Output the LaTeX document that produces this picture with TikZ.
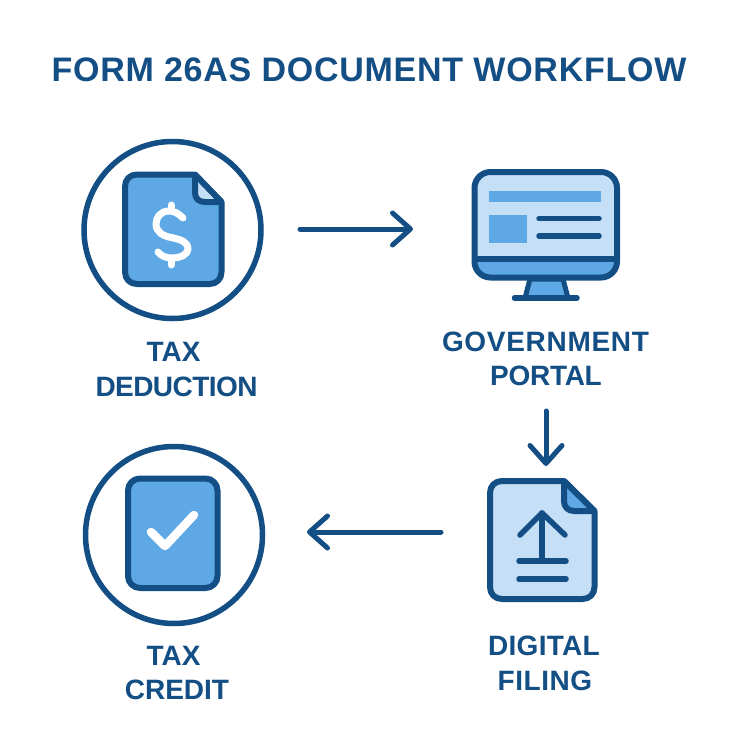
\documentclass[tikz,border=0pt]{standalone}
\usepackage{fontspec}
\setmainfont{Liberation Sans}
\usetikzlibrary{arrows.meta}
\definecolor{navy}{HTML}{134E85}
\definecolor{midblue}{HTML}{5FA8E6}
\definecolor{paleblue}{HTML}{C5DFF7}
\newcommand{\lbl}[2]{\addfontfeature{LetterSpace=#1}#2}
\tikzset{
  ring/.style={circle,draw=navy,line width=5.5pt,fill=white,minimum size=177pt,inner sep=0pt},
  outline/.style={draw=navy,line width=6pt,line join=round},
  inkline/.style={draw=navy,line width=5.5pt,line cap=round,line join=round},
  whiteink/.style={draw=white,line cap=round,line join=round},
  flow/.style={draw=navy,line width=5pt,line cap=round,-{Straight Barb[length=18pt,width=32pt,round,line width=5pt]}},
  label/.style={text=navy,font=\fontsize{28}{28}\bfseries\selectfont,inner sep=0pt,anchor=center},
  titletext/.style={text=navy,font=\fontsize{34}{34}\bfseries\addfontfeature{LetterSpace=2.2}\selectfont,inner sep=0pt}
}
\begin{document}
\begin{tikzpicture}[x=1pt,y=-1pt]
\useasboundingbox (0,0) rectangle (753,753);
\fill[white] (0,0) rectangle (753,753);
\node[titletext] (title) at (369,70) {FORM 26AS DOCUMENT WORKFLOW};

% Tax deduction
\node[ring] (dedring) at (172.5,230) {};
\path[outline,fill=midblue] (195,174.5) -- (137,174.5) .. controls (130,174.5) and (125,179.5) .. (125,186.5) -- (125,272) .. controls (125,279) and (130,284) .. (137,284) -- (209.5,284) .. controls (216.5,284) and (221.5,279) .. (221.5,272) -- (221.5,202) -- cycle;
\path[fill=paleblue] (195,174.5) -- (221.5,202) -- (203,202) -- (195,194) -- cycle;
\path[outline] (195,174.5) -- (195,192) .. controls (195,198) and (198,202) .. (205,202) -- (221.5,202);
\path[outline] (195,174.5) -- (221.5,202);
\draw[whiteink,line width=7pt] (183,218) .. controls (178,213) and (174,211) .. (169,211)
  .. controls (161,211) and (156,217) .. (156,224)
  .. controls (156,232) and (163,236) .. (171,237.5)
  .. controls (181,239.5) and (188,242) .. (188,249)
  .. controls (188,254) and (181,258) .. (172,258)
  .. controls (166,258) and (161,256) .. (158,252);
\draw[whiteink,line width=7pt] (171,205) -- (171,211) (171,258) -- (171,265);
\node[label] (ded1) at (173.5,352) {TAX};
\node[label] (ded2) at (176.5,387) {\lbl{-2}{DEDUCTION}};

% Government portal
\path[fill=paleblue,rounded corners=16pt] (474.5,172) rectangle (617,277.5);
\begin{scope}
\clip[rounded corners=16pt] (474.5,172) rectangle (617,277.5);
\fill[midblue] (474.5,259) rectangle (617,277.5);
\end{scope}
\path[outline,rounded corners=16pt] (474.5,172) rectangle (617,277.5);
\draw[navy,line width=6pt] (474.5,259) -- (617,259);
\fill[midblue] (489,191) rectangle (601,202);
\fill[midblue] (489,215) rectangle (526.5,243);
\draw[inkline] (539,218.5) -- (599,218.5);
\draw[inkline] (539,236) -- (599,236);
\path[outline,line width=5pt,fill=midblue] (530,279) -- (563,279) -- (568,298) -- (525,298) -- cycle;
\draw[inkline] (514.5,298) -- (577,298);
\node[label] (gov1) at (545.5,342) {\lbl{2.5}{GOVERNMENT}};
\node[label] (gov2) at (546,376) {\lbl{-1}{PORTAL}};

% Digital filing
\path[outline,fill=paleblue] (564,481) -- (502,481) .. controls (495,481) and (490,486) .. (490,493) -- (490,587) .. controls (490,594) and (495,599) .. (502,599) -- (582.5,599) .. controls (589.5,599) and (594.5,594) .. (594.5,587) -- (594.5,511) -- cycle;
\path[fill=midblue] (564,481) -- (594.5,511) -- (574,511) -- (564,501) -- cycle;
\path[outline] (564,481) -- (564,501) .. controls (564,507) and (568,511) .. (574,511) -- (594.5,511);
\path[outline] (564,481) -- (594.5,511);
\draw[inkline] (542,560) -- (542,513);
\draw[inkline] (520,535) -- (542,513) -- (565,535);
\draw[inkline] (519,561) -- (566,561);
\draw[inkline] (519,579) -- (566,579);
\node[label] (fil1) at (544,646) {\lbl{1}{DIGITAL}};
\node[label] (fil2) at (545,681) {\lbl{2}{FILING}};

% Tax credit
\node[ring] (credring) at (174,535) {};
\path[outline,fill=midblue,rounded corners=12pt] (128,478.5) rectangle (217.5,588);
\draw[whiteink,line width=8.5pt] (151,532) -- (165,546) -- (194,515);
\node[label] (cre1) at (173.5,656) {TAX};
\node[label] (cre2) at (177,690) {CREDIT};

% Connectors
\coordinate (a1) at (300,229);
\coordinate (a2) at (413,229);
\coordinate (b1) at (546,411);
\coordinate (b2) at (546,466);
\coordinate (c1) at (441,532);
\coordinate (c2) at (307,532);
\draw[flow] (a1) -- (a2);
\draw[flow] (b1) -- (b2);
\draw[flow] (c1) -- (c2);
\end{tikzpicture}
\end{document}
